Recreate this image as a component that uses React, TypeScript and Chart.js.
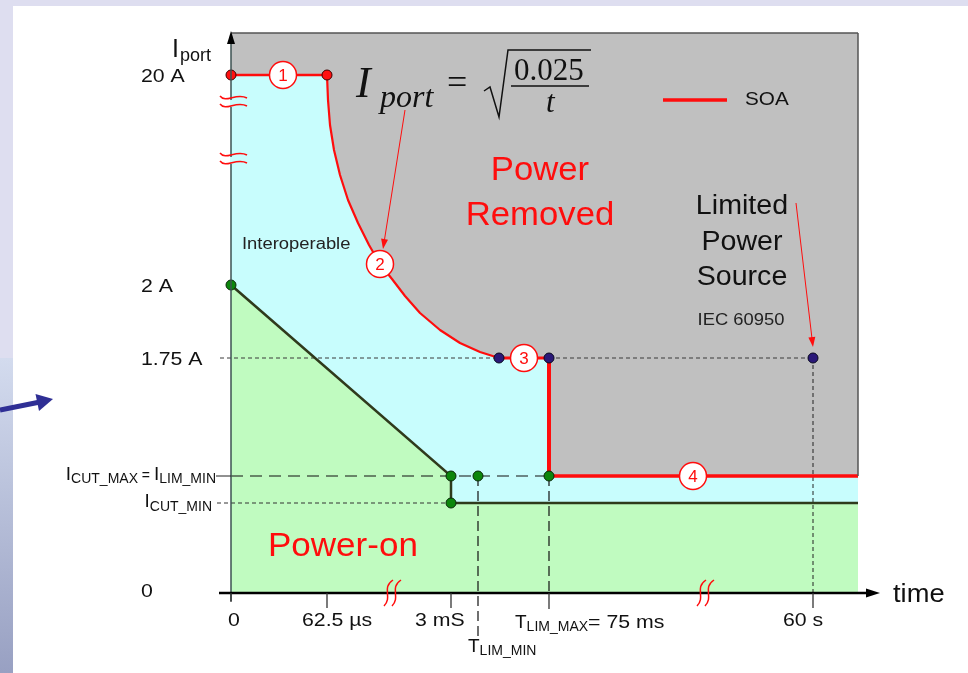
import React, { useEffect, useRef } from "react";
import { Chart, registerables } from "chart.js";

Chart.register(...registerables);

const SANS = '"Liberation Sans", Arial, Helvetica, sans-serif';
const SERIF = '"Liberation Serif", "Times New Roman", serif';

// ---------- data (schematic units; both axes are broken / not to scale) ----------
const xMax = 627;
const yMax = 560;

const yLevelLabels = ["20 A", "2 A", "1.75 A", "0"];
const yLevelValues = [518, 308, 235, 0];
const iCutMaxLevel = 117;
const iCutMinLevel = 90;

const xTickLabels = ["0", "62.5 µs", "3 mS", "60 s"];
const xTickValues = [0, 96, 220, 582];
const tLimMinValue = 247;
const tLimMaxValue = 318;

// SOA boundary (red)
const soaX = [0, 96, 97, 99, 103, 109, 117, 127, 138, 149, 161, 174, 189, 209, 229, 249, 268, 318, 318, 627];
const soaY = [518, 518, 493, 468, 443, 418, 393, 370, 348, 329, 314, 297, 280, 263, 250, 241, 235, 235, 117, 117];

// Power-on boundary (dark olive)
const powerOnX = [0, 220, 220, 627];
const powerOnY = [308, 117, 90, 90];

// markers
const redDotX = [0, 96];
const redDotY = [518, 518];
const blueDotX = [268, 318, 582];
const blueDotY = [235, 235, 235];
const greenDotX = [0, 220, 247, 220, 318];
const greenDotY = [308, 117, 117, 90, 117];

// circled region numbers
const regionNumbers = ["1", "2", "3", "4"];
const regionX = [52, 149, 293, 462];
const regionY = [518, 329, 235, 117];

// ---------- helpers ----------
type TOpts = {
  color?: string;
  align?: "left" | "center" | "right";
  sx?: number;
  family?: string;
  style?: string;
  baseline?: CanvasTextBaseline;
};

function drawText(ctx: CanvasRenderingContext2D, s: string, x: number, y: number, size: number, o: TOpts = {}) {
  const { color = "#111", align = "left", sx = 1, family = SANS, style = "normal", baseline = "alphabetic" } = o;
  ctx.save();
  ctx.font = `${style} normal ${size}px ${family}`;
  ctx.fillStyle = color;
  ctx.textBaseline = baseline;
  ctx.textAlign = "left";
  const w = ctx.measureText(s).width * sx;
  const x0 = align === "left" ? x : align === "right" ? x - w : x - w / 2;
  ctx.translate(x0, y);
  ctx.scale(sx, 1);
  ctx.fillText(s, 0, 0);
  ctx.restore();
  return w;
}

function measure(ctx: CanvasRenderingContext2D, s: string, size: number, sx = 1) {
  ctx.save();
  ctx.font = `${size}px ${SANS}`;
  const w = ctx.measureText(s).width * sx;
  ctx.restore();
  return w;
}

type Part = [string, number, number, number?];
function drawParts(ctx: CanvasRenderingContext2D, parts: Part[], x: number, y: number, align: "left" | "right", color = "#111") {
  const total = parts.reduce((s, p) => s + measure(ctx, p[0], p[1], p[3] ?? 1), 0);
  let cx = align === "right" ? x - total : x;
  for (const p of parts) {
    cx += drawText(ctx, p[0], cx, y + p[2], p[1], { color, sx: p[3] ?? 1 });
  }
}

function line(ctx: CanvasRenderingContext2D, x1: number, y1: number, x2: number, y2: number, color: string, w: number) {
  ctx.save();
  ctx.strokeStyle = color;
  ctx.lineWidth = w;
  ctx.beginPath();
  ctx.moveTo(x1, y1);
  ctx.lineTo(x2, y2);
  ctx.stroke();
  ctx.restore();
}

function arrow(ctx: CanvasRenderingContext2D, x1: number, y1: number, x2: number, y2: number, color: string, w: number, hl: number, hw: number) {
  const dx = x2 - x1, dy = y2 - y1;
  const len = Math.hypot(dx, dy);
  const ux = dx / len, uy = dy / len;
  const bx = x2 - ux * hl, by = y2 - uy * hl;
  line(ctx, x1, y1, bx + ux * 1, by + uy * 1, color, w);
  ctx.save();
  ctx.fillStyle = color;
  ctx.beginPath();
  ctx.moveTo(x2, y2);
  ctx.lineTo(bx - uy * hw, by + ux * hw);
  ctx.lineTo(bx + uy * hw, by - ux * hw);
  ctx.closePath();
  ctx.fill();
  ctx.restore();
}

const RED = "#ff0d0d";
const CYAN = "#c8fdfd";
const GREEN = "#c0fbc0";
const GRAY = "#c0c0c0";
const OLIVE = "#2f3a1c";

const decorPlugin = {
  id: "decor",
  beforeDraw(chart: any) {
    const { ctx, chartArea: a, width, height } = chart;
    ctx.save();
    ctx.fillStyle = "#ffffff";
    ctx.fillRect(0, 0, width, height);
    ctx.fillStyle = "#dedef0";
    ctx.fillRect(0, 0, width, 6);
    ctx.fillRect(0, 0, 13, 358);
    const g = ctx.createLinearGradient(0, 358, 0, height);
    g.addColorStop(0, "#d3dbee");
    g.addColorStop(1, "#98a0c2");
    ctx.fillStyle = g;
    ctx.fillRect(0, 358, 13, height - 358);
    ctx.fillStyle = GRAY;
    ctx.fillRect(a.left, a.top, a.right - a.left, a.bottom - a.top);
    ctx.restore();
    // slide arrow
    ctx.save();
    ctx.strokeStyle = "#2f2f95";
    ctx.lineWidth = 5;
    ctx.beginPath();
    ctx.moveTo(0, 410);
    ctx.lineTo(40, 402);
    ctx.stroke();
    ctx.fillStyle = "#2f2f95";
    ctx.beginPath();
    ctx.moveTo(53, 399);
    ctx.lineTo(39, 411);
    ctx.lineTo(35.5, 394);
    ctx.closePath();
    ctx.fill();
    ctx.restore();
  },
  afterDatasetsDraw(chart: any) {
    const { ctx, chartArea: a } = chart;
    const xs = chart.scales.x;
    const ys = chart.scales.y;
    const px = (v: number) => xs.getPixelForValue(v);
    const py = (v: number) => ys.getPixelForValue(v);

    // plot-area border (top & right of gray region)
    line(ctx, a.left, a.top, a.right, a.top, "#555", 1.5);
    line(ctx, a.right, a.top, a.right, py(iCutMaxLevel), "#555", 1.5);

    // y axis + arrow
    line(ctx, a.left, a.bottom + 8, a.left, a.top + 10, "#3d5252", 1.5);
    ctx.save();
    ctx.fillStyle = "#000";
    ctx.beginPath();
    ctx.moveTo(a.left, a.top - 2);
    ctx.lineTo(a.left - 4, a.top + 11);
    ctx.lineTo(a.left + 4, a.top + 11);
    ctx.closePath();
    ctx.fill();
    ctx.restore();

    // x axis + arrow
    line(ctx, a.left - 12, a.bottom, a.right + 10, a.bottom, "#000", 2.5);
    ctx.save();
    ctx.fillStyle = "#000";
    ctx.beginPath();
    ctx.moveTo(a.right + 22, a.bottom);
    ctx.lineTo(a.right + 8, a.bottom - 4.5);
    ctx.lineTo(a.right + 8, a.bottom + 4.5);
    ctx.closePath();
    ctx.fill();
    ctx.restore();
    drawText(ctx, "time", a.right + 35, a.bottom + 9, 26, { sx: 1.05 });

    // x ticks
    xTickValues.forEach((v, i) => {
      line(ctx, px(v), a.bottom, px(v), a.bottom + (i === 0 ? 9 : 15), "#333", 1.3);
    });
    line(ctx, px(tLimMaxValue), a.bottom, px(tLimMaxValue), a.bottom + 16, "#333", 1.3);
    // solid lead-in of I_CUT_MAX guide
    line(ctx, a.left - 15, py(iCutMaxLevel), a.left, py(iCutMaxLevel), "#222", 1);

    // axis break marks on y axis
    [103, 160].forEach((yy) => {
      ctx.save();
      ctx.fillStyle = CYAN;
      ctx.fillRect(a.left - 1, yy - 3, 3, 7);
      ctx.strokeStyle = RED;
      ctx.lineWidth = 1.5;
      for (const off of [-4, 4]) {
        ctx.beginPath();
        ctx.moveTo(a.left - 11, yy + off - 3);
        ctx.bezierCurveTo(a.left - 5, yy + off + 5, a.left + 5, yy + off - 7, a.left + 16, yy + off - 1);
        ctx.stroke();
      }
      ctx.restore();
    });
    // axis break marks on x axis
    [391, 704].forEach((xx) => {
      ctx.save();
      ctx.strokeStyle = RED;
      ctx.lineWidth = 1.5;
      for (const off of [-4, 4]) {
        ctx.beginPath();
        ctx.moveTo(xx + off + 6, a.bottom - 13);
        ctx.bezierCurveTo(xx + off - 6, a.bottom - 5, xx + off + 6, a.bottom + 4, xx + off - 3, a.bottom + 13);
        ctx.stroke();
      }
      ctx.restore();
    });

    // y labels
    const yShift = [0, 0, 0, -3];
    yLevelLabels.forEach((s, i) => {
      drawText(ctx, s, 141, py(yLevelValues[i]) + 7 + yShift[i], 19, { sx: 1.12 });
    });
    drawText(ctx, "I", 172, 57, 25);
    drawText(ctx, "port", 180, 61, 18, { sx: 1.0 });
    drawParts(ctx, [["I", 19, 0], ["CUT_MAX", 14, 3], [" = ", 14, 0], ["I", 19, 0], ["LIM_MIN", 14, 3]], a.left - 15, py(iCutMaxLevel) + 4, "right");
    drawParts(ctx, [["I", 19, 0], ["CUT_MIN", 14, 4]], a.left - 19, py(iCutMinLevel) + 4, "right");

    // x labels
    const xOff = [-3, -25, -36, -30];
    xTickLabels.forEach((s, i) => {
      drawText(ctx, s, px(xTickValues[i]) + xOff[i], a.bottom + 33, 19, { sx: 1.12 });
    });
    drawParts(ctx, [["T", 19, 0], ["LIM_MIN", 14, 3]], px(tLimMinValue) - 10, a.bottom + 59, "left");
    drawParts(ctx, [["T", 19, 0], ["LIM_MAX", 14, 3], ["= 75 ms", 19, 0, 1.12]], px(tLimMaxValue) - 34, a.bottom + 35, "left");

    // region texts
    drawText(ctx, "Interoperable", 242, 249, 16, { sx: 1.15, color: "#222" });
    drawText(ctx, "Power", 540, 180, 34, { align: "center", color: RED, sx: 1.02 });
    drawText(ctx, "Removed", 540, 225, 34, { align: "center", color: RED, sx: 1.02 });
    drawText(ctx, "Power-on", 268, 556, 34, { color: RED, sx: 1.03 });
    drawText(ctx, "Limited", 742, 214, 27, { align: "center", sx: 1.06 });
    drawText(ctx, "Power", 742, 250, 27, { align: "center", sx: 1.06 });
    drawText(ctx, "Source", 742, 285, 27, { align: "center", sx: 1.06 });
    drawText(ctx, "IEC 60950", 741, 325, 17, { align: "center", sx: 1.08, color: "#222" });

    // legend
    line(ctx, 663, 100, 727, 100, RED, 3.5);
    drawText(ctx, "SOA", 745, 105, 18, { sx: 1.15 });

    // formula  I_port = sqrt(0.025 / t)
    drawText(ctx, "I", 356, 97, 44, { family: SERIF, style: "italic" });
    drawText(ctx, "port", 380, 107, 32, { family: SERIF, style: "italic" });
    drawText(ctx, "=", 447, 94, 36, { family: SERIF });
    ctx.save();
    ctx.strokeStyle = "#111";
    ctx.lineWidth = 1.5;
    ctx.lineJoin = "miter";
    ctx.beginPath();
    ctx.moveTo(484, 91);
    ctx.lineTo(490, 87);
    ctx.lineTo(499, 117);
    ctx.lineTo(508, 50);
    ctx.lineTo(591, 50);
    ctx.stroke();
    ctx.restore();
    drawText(ctx, "0.025", 514, 80, 31, { family: SERIF });
    line(ctx, 511, 86, 589, 86, "#111", 1.5);
    drawText(ctx, "t", 546, 112, 31, { family: SERIF, style: "italic" });

    // annotation arrows
    const n = chart.data.datasets.length;
    const cMeta = chart.getDatasetMeta(n - 1);
    const c2 = cMeta.data[1];
    arrow(ctx, 405, 110, c2.x + 3, c2.y - 15, RED, 1, 10, 3.5);
    const bMeta = chart.getDatasetMeta(n - 2);
    const b60 = bMeta.data[2];
    arrow(ctx, 796, 203, b60.x, b60.y - 11, RED, 1, 10, 3.5);

    // circled numbers
    cMeta.data.forEach((pt: any, i: number) => {
      drawText(ctx, regionNumbers[i], pt.x, pt.y + 6, 17, { align: "center", color: RED });
    });
  },
};

const pts = (xs: number[], ys: number[]) => xs.map((x, i) => ({ x, y: ys[i] }));
const soaWidths = soaX.slice(1).map((_, i) => (i === 0 ? 2.5 : i < 16 ? 2.2 : i === 16 ? 3 : i === 17 ? 4 : 3.5));

function guide(data: { x: number; y: number }[], color: string, dash: number[], w = 1) {
  return {
    type: "line" as const,
    data,
    borderColor: color,
    borderWidth: w,
    borderDash: dash,
    pointRadius: 0,
    fill: false,
    clip: false as any,
    order: 10,
  };
}

export default function App() {
  const ref = useRef<HTMLCanvasElement | null>(null);
  useEffect(() => {
    if (!ref.current) return;
    const datasets: any[] = [
      guide([{ x: -11, y: yLevelValues[2] }, { x: blueDotX[2], y: yLevelValues[2] }], "#3a3a3a", [4, 3]),
      guide([{ x: 0, y: iCutMaxLevel }, { x: tLimMaxValue, y: iCutMaxLevel }], "#111", [12, 7], 1.2),
      guide([{ x: -14, y: iCutMinLevel }, { x: powerOnX[1], y: iCutMinLevel }], "#333", [4, 3]),
      guide([{ x: tLimMinValue, y: iCutMaxLevel }, { x: tLimMinValue, y: -43 }], "#111", [10, 5], 1.2),
      guide([{ x: tLimMaxValue, y: iCutMaxLevel }, { x: tLimMaxValue, y: 0 }], "#111", [10, 5], 1.2),
      guide([{ x: blueDotX[2], y: blueDotY[2] }, { x: blueDotX[2], y: 0 }], "#222", [4, 3]),
      {
        type: "line",
        label: "SOA",
        data: pts(soaX, soaY),
        borderColor: RED,
        borderWidth: 2.2,
        borderCapStyle: "round",
        borderJoinStyle: "round",
        segment: { borderWidth: (c: any) => soaWidths[c.p0DataIndex] },
        backgroundColor: CYAN,
        fill: "origin",
        pointRadius: 0,
        tension: 0,
        order: 5,
      },
      {
        type: "line",
        label: "Power-on",
        data: pts(powerOnX, powerOnY),
        borderColor: OLIVE,
        borderWidth: 2.5,
        backgroundColor: GREEN,
        fill: "origin",
        pointRadius: 0,
        tension: 0,
        order: 4,
      },
      {
        type: "line",
        data: pts(greenDotX, greenDotY),
        showLine: false,
        pointRadius: 5,
        pointBackgroundColor: "#0c860c",
        pointBorderColor: "#0a2a0a",
        pointBorderWidth: 1,
        clip: false,
        order: 2,
      },
      {
        type: "line",
        data: pts(redDotX, redDotY),
        showLine: false,
        pointRadius: 5,
        pointBackgroundColor: "#ff1010",
        pointBorderColor: "#400000",
        pointBorderWidth: 1,
        clip: false,
        order: 2,
      },
      {
        type: "line",
        data: pts(blueDotX, blueDotY),
        showLine: false,
        pointRadius: 5,
        pointBackgroundColor: "#2a1878",
        pointBorderColor: "#0a0a20",
        pointBorderWidth: 1,
        clip: false,
        order: 2,
      },
      {
        type: "line",
        data: pts(regionX, regionY),
        showLine: false,
        pointRadius: 13.5,
        pointBackgroundColor: "#ffffff",
        pointBorderColor: RED,
        pointBorderWidth: 1.5,
        clip: false,
        order: 1,
      },
    ];
    const chart = new Chart(ref.current, {
      type: "line",
      data: { datasets },
      options: {
        responsive: false,
        animation: false,
        devicePixelRatio: 1,
        events: [],
        layout: { padding: { left: 231, top: 33, right: 110, bottom: 80 } },
        scales: {
          x: { type: "linear", min: 0, max: xMax, display: false },
          y: { type: "linear", min: 0, max: yMax, display: false },
        },
        plugins: {
          legend: { display: false },
          tooltip: { enabled: false },
          filler: { drawTime: "beforeDatasetsDraw" },
        } as any,
      },
      plugins: [decorPlugin],
    });
    return () => chart.destroy();
  }, []);
  return (
    <div style={{ position: "absolute", left: 0, top: 0, width: 968, height: 673, overflow: "hidden" }}>
      <canvas ref={ref} width={968} height={673} style={{ display: "block" }} />
    </div>
  );
}
